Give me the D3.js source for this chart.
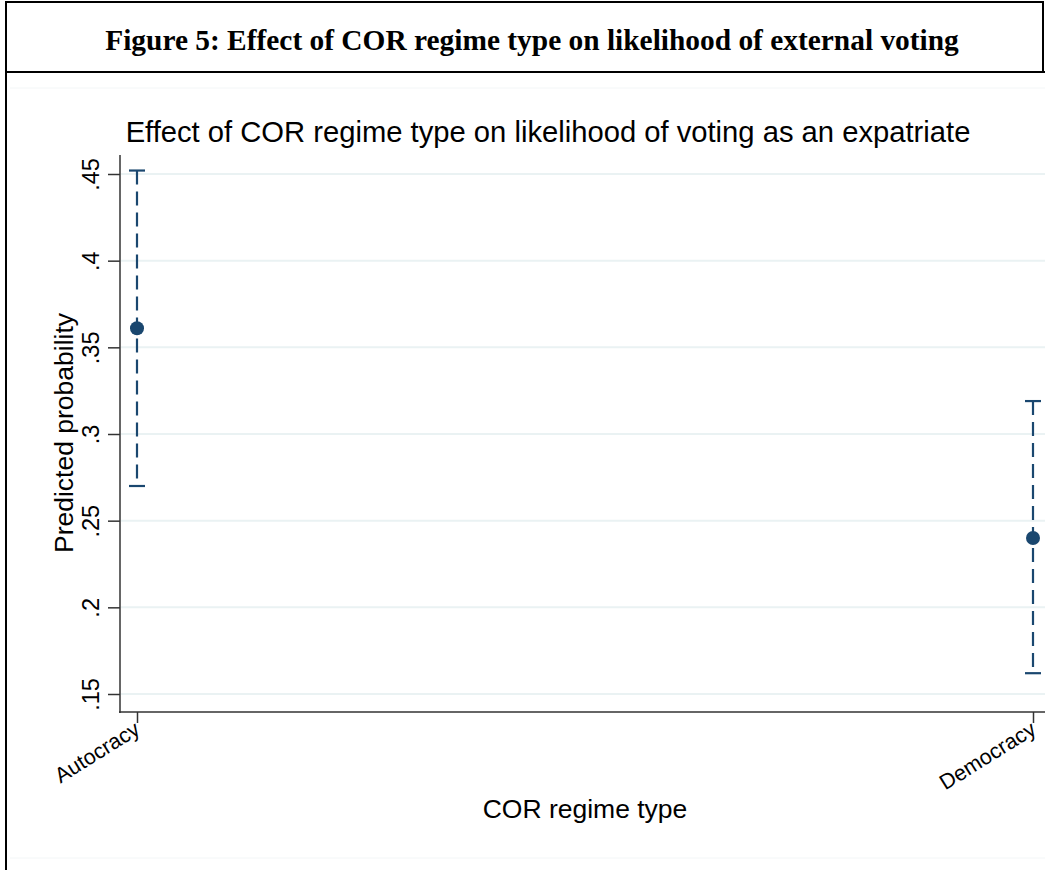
<!DOCTYPE html>
<html><head><meta charset="utf-8">
<script src="https://cdn.jsdelivr.net/npm/d3@7"></script>
<style>body{margin:0;background:#fff}svg{display:block}</style>
</head><body>
<script>
const categories = ["Autocracy", "Democracy"];
const estimates = [0.361, 0.240];
const lowerCI = [0.270, 0.162];
const upperCI = [0.452, 0.319];
const yTicks = [0.15, 0.2, 0.25, 0.3, 0.35, 0.4, 0.45];
const yTickLabels = [".15", ".2", ".25", ".3", ".35", ".4", ".45"];

const W = 1045, H = 870;
const svg = d3.select("body").append("svg").attr("width", W).attr("height", H);

// header box
svg.append("line").attr("x1",6).attr("x2",6).attr("y1",2).attr("y2",H).attr("stroke","#000").attr("stroke-width",2);
svg.append("line").attr("x1",5).attr("x2",1044).attr("y1",2).attr("y2",2).attr("stroke","#000").attr("stroke-width",2);
svg.append("line").attr("x1",5).attr("x2",1045).attr("y1",72).attr("y2",72).attr("stroke","#000").attr("stroke-width",2);
svg.append("line").attr("x1",1043).attr("x2",1043).attr("y1",2).attr("y2",72).attr("stroke","#000").attr("stroke-width",2);
svg.append("text").attr("x",532).attr("y",50).attr("text-anchor","middle")
  .attr("font-family","'Liberation Serif', serif").attr("font-weight","bold").attr("font-size",29.4)
  .text("Figure 5: Effect of  COR regime type on likelihood of  external voting");

// faint graph region lines
svg.append("line").attr("x1",10).attr("x2",1045).attr("y1",88).attr("y2",88).attr("stroke","#f3f6f7");
svg.append("line").attr("x1",10).attr("x2",1045).attr("y1",858).attr("y2",858).attr("stroke","#f3f6f7");

const x = d3.scalePoint().domain(categories).range([137, 1033]);
const y = d3.scaleLinear().domain([0.15, 0.45]).range([694, 174]);
const col = "#1a476f";
const font = "'Liberation Sans', Arial, sans-serif";

// grid
svg.append("g").selectAll("line").data(yTicks).join("line")
  .attr("x1",121).attr("x2",1045).attr("y1",d=>y(d)).attr("y2",d=>y(d))
  .attr("stroke","#eaf2f3").attr("stroke-width",2);

// y axis
const yAxis = d3.axisLeft(y).tickValues(yTicks).tickFormat((d,i)=>yTickLabels[i]).tickSize(12).tickSizeOuter(0);
const gy = svg.append("g").attr("transform","translate(120,0)").call(yAxis);
gy.select(".domain").remove();
gy.selectAll(".tick line").attr("stroke","#333").attr("stroke-width",1.5);
gy.selectAll(".tick text").attr("font-family",font).attr("font-size",23.5).attr("fill","#000")
  .attr("text-anchor","middle").attr("x",0).attr("y",0).attr("dy","0")
  .attr("transform","translate(-21,0) rotate(-90)");
svg.append("line").attr("x1",120).attr("x2",120).attr("y1",155).attr("y2",713).attr("stroke","#333").attr("stroke-width",1.5);

// x axis
const xAxis = d3.axisBottom(x).tickSize(11).tickSizeOuter(0);
const gx = svg.append("g").attr("transform","translate(0,712)").call(xAxis);
gx.select(".domain").remove();
gx.selectAll(".tick line").attr("stroke","#333").attr("stroke-width",1.5);
gx.selectAll(".tick text").attr("font-family",font).attr("font-size",21.5).attr("fill","#000")
  .attr("text-anchor","end").attr("y",0).attr("dy",0)
  .attr("transform","translate(4,21) rotate(-32)");
svg.append("line").attr("x1",119).attr("x2",1045).attr("y1",712).attr("y2",712).attr("stroke","#333").attr("stroke-width",1.5);

// CI
const g = svg.append("g");
g.selectAll("line.ci").data(categories).join("line").attr("class","ci")
  .attr("x1",d=>x(d)).attr("x2",d=>x(d))
  .attr("y1",(d,i)=>y(upperCI[i])).attr("y2",(d,i)=>y(lowerCI[i]))
  .attr("stroke",col).attr("stroke-width",2.2).attr("stroke-dasharray","14,7");
[upperCI, lowerCI].forEach(arr=>{
  g.append("g").selectAll("line").data(categories).join("line")
    .attr("x1",d=>x(d)-8).attr("x2",d=>x(d)+8)
    .attr("y1",(d,i)=>y(arr[i])).attr("y2",(d,i)=>y(arr[i]))
    .attr("stroke",col).attr("stroke-width",2.2);
});
g.selectAll("circle").data(categories).join("circle")
  .attr("cx",d=>x(d)).attr("cy",(d,i)=>y(estimates[i])).attr("r",7).attr("fill",col);

// titles
svg.append("text").attr("x",548).attr("y",142).attr("text-anchor","middle")
  .attr("font-family",font).attr("font-size",29.2).text("Effect of COR regime type on likelihood of voting as an expatriate");
svg.append("text").attr("transform","translate(73,433) rotate(-90)").attr("text-anchor","middle")
  .attr("font-family",font).attr("font-size",26.5).text("Predicted probability");
svg.append("text").attr("x",585).attr("y",818).attr("text-anchor","middle")
  .attr("font-family",font).attr("font-size",26.5).text("COR regime type");
</script>
</body></html>
